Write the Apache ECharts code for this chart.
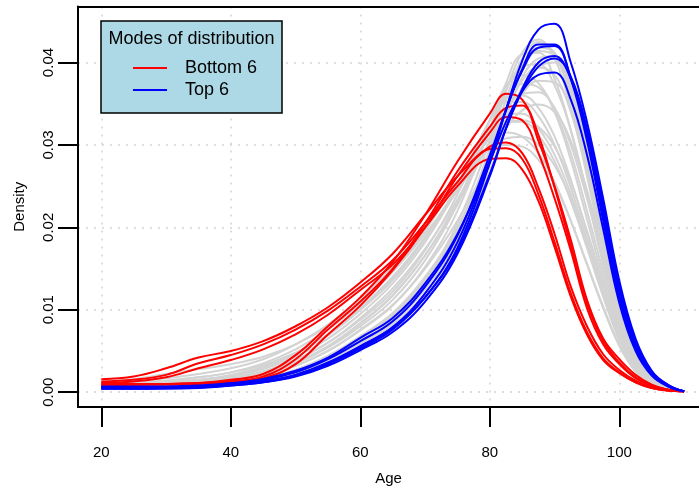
<!DOCTYPE html>
<html lang="en">
<head>
    <meta charset="UTF-8">
    <script src="https://cdn.jsdelivr.net/npm/echarts@6/dist/echarts.min.js"></script>
    <title>Modes of distribution</title>
    <style type="text/css">
        html, body { margin: 0; padding: 0; background: #fff; }
        #chart { width: 699px; height: 487px; }
    </style>
</head>
<body>
<div id="chart"></div>

<script type="text/javascript">
    const ages = [20, 25, 30, 35, 40, 45, 50, 55, 60, 65, 70, 75, 80, 82.5, 85, 87.5, 90, 92.5, 95, 97.5, 100, 102.5, 105, 107.5, 110];

    const xTicks = [20, 40, 60, 80, 100];
    const yTicks = [0, 0.01, 0.02, 0.03, 0.04];

    // Bottom 6 (red)
    const bottom6 = [
        [.00158, .0019, .0029, .0042, .0050, .0062, .0080, .0103, .0133, .0168, .0215, .0262, .0298, .0303, .0290, .0248, .0192, .0128, .0080, .0046, .0027, .0014, .0006, .0002, .0001],
        [.00129, .0015, .0021, .0035, .0045, .0058, .0076, .0099, .0128, .0160, .0205, .0255, .0295, .0296, .0283, .0240, .0182, .0120, .0073, .0041, .0024, .0012, .0005, .0002, .0001],
        [.0011, .0013, .0018, .0029, .0039, .0052, .0070, .0094, .0124, .0155, .0200, .0250, .0283, .0284, .0270, .0232, .0176, .0116, .0070, .0039, .0023, .0012, .0005, .0002, .0001],
        [.0010, .0010, .0010, .0011, .0015, .0022, .0045, .0080, .0115, .0158, .0215, .0280, .0338, .0362, .0355, .0312, .0248, .0178, .0108, .0062, .0036, .0018, .0008, .0003, .0001],
        [.0009, .0009, .0010, .0011, .0013, .0019, .0040, .0076, .0110, .0150, .0205, .0268, .0322, .0345, .0348, .0305, .0250, .0185, .0112, .0065, .0040, .0021, .0009, .0003, .0001],
        [.0008, .0009, .0009, .0010, .0013, .0017, .0034, .0070, .0105, .0148, .0200, .0262, .0315, .0334, .0330, .0290, .0235, .0172, .0102, .0058, .0034, .0017, .0008, .0003, .0001]
    ];

    // Top 6 (blue)
    const top6 = [
        [.0004, .0004, .0004, .0005, .0008, .0012, .0020, .0034, .0053, .0076, .0115, .0175, .0278, .0343, .0402, .0440, .0447, .0400, .0328, .0235, .0135, .0065, .0026, .0009, .0001],
        [.0005, .0005, .0005, .0006, .0009, .0013, .0021, .0036, .0056, .0079, .0120, .0182, .0282, .0342, .0392, .0422, .0422, .0380, .0305, .0208, .0113, .0052, .0021, .0007, .0001],
        [.0006, .0006, .0006, .0007, .0010, .0015, .0024, .0040, .0062, .0086, .0128, .0190, .0288, .0343, .0390, .0418, .0420, .0382, .0310, .0214, .0118, .0055, .0022, .0008, .0001],
        [.0004, .0004, .0005, .0006, .0008, .0012, .0019, .0032, .0051, .0073, .0110, .0168, .0262, .0320, .0368, .0400, .0408, .0380, .0315, .0222, .0125, .0059, .0024, .0008, .0001],
        [.0005, .0005, .0005, .0006, .0009, .0013, .0021, .0035, .0055, .0078, .0115, .0172, .0265, .0320, .0365, .0395, .0405, .0383, .0320, .0228, .0130, .0062, .0025, .0009, .0001],
        [.0007, .0007, .0007, .0008, .0011, .0016, .0026, .0042, .0066, .0090, .0132, .0192, .0280, .0328, .0365, .0385, .0388, .0355, .0288, .0198, .0108, .0050, .0020, .0007, .0001]
    ];

    // all the other curves (grey)
    const others = [
        [.0005, .0005, .0006, .0007, .0010, .0016, .0026, .0042, .0065, .0092, .0138, .0205, .0305, .0365, .0412, .0428, .0405, .0345, .0262, .0170, .0090, .0040, .0015, .0005, .0001],
        [.0005, .0005, .0006, .0007, .0010, .0015, .0024, .0040, .0062, .0088, .0132, .0196, .0295, .0355, .0405, .0425, .0410, .0355, .0272, .0180, .0097, .0044, .0017, .0006, .0001],
        [.0006, .0006, .0007, .0008, .0011, .0017, .0027, .0044, .0066, .0092, .0135, .0195, .0288, .0345, .0395, .0418, .0412, .0365, .0285, .0190, .0104, .0048, .0018, .0006, .0001],
        [.0006, .0006, .0007, .0009, .0013, .0020, .0032, .0050, .0075, .0105, .0152, .0220, .0320, .0375, .0410, .0412, .0380, .0318, .0238, .0155, .0082, .0036, .0014, .0005, .0001],
        [.0005, .0005, .0006, .0007, .0009, .0014, .0023, .0038, .0060, .0085, .0126, .0186, .0278, .0333, .0382, .0405, .0408, .0370, .0295, .0200, .0112, .0052, .0020, .0007, .0001],
        [.0007, .0007, .0008, .0010, .0014, .0022, .0035, .0054, .0080, .0112, .0160, .0228, .0318, .0368, .0395, .0398, .0372, .0318, .0242, .0160, .0087, .0039, .0015, .0005, .0001],
        [.0006, .0006, .0007, .0008, .0011, .0017, .0027, .0044, .0068, .0096, .0140, .0200, .0288, .0340, .0378, .0394, .0385, .0340, .0268, .0182, .0102, .0047, .0018, .0006, .0001],
        [.0008, .0008, .0009, .0011, .0016, .0025, .0039, .0060, .0088, .0122, .0172, .0240, .0330, .0372, .0385, .0375, .0340, .0282, .0210, .0138, .0075, .0034, .0013, .0004, .0001],
        [.0005, .0006, .0006, .0007, .0010, .0016, .0026, .0042, .0066, .0094, .0138, .0196, .0280, .0328, .0362, .0378, .0376, .0342, .0275, .0190, .0108, .0050, .0019, .0006, .0001],
        [.0007, .0007, .0008, .0010, .0014, .0022, .0035, .0055, .0083, .0117, .0166, .0232, .0318, .0358, .0374, .0370, .0342, .0290, .0220, .0146, .0080, .0036, .0014, .0005, .0001],
        [.0008, .0008, .0009, .0011, .0015, .0023, .0036, .0056, .0084, .0118, .0166, .0228, .0305, .0343, .0362, .0364, .0345, .0300, .0235, .0160, .0090, .0041, .0016, .0005, .0001],
        [.0009, .0009, .0010, .0013, .0018, .0028, .0043, .0065, .0095, .0132, .0182, .0248, .0330, .0352, .0352, .0335, .0300, .0248, .0185, .0122, .0067, .0030, .0012, .0004, .0001],
        [.0006, .0007, .0008, .0009, .0013, .0020, .0032, .0050, .0076, .0106, .0150, .0208, .0282, .0320, .0342, .0349, .0340, .0305, .0245, .0170, .0097, .0045, .0017, .0006, .0001],
        [.0010, .0010, .0012, .0015, .0020, .0030, .0046, .0069, .0100, .0138, .0188, .0250, .0320, .0338, .0338, .0320, .0288, .0240, .0180, .0120, .0066, .0030, .0012, .0004, .0001],
        [.0008, .0008, .0009, .0012, .0016, .0025, .0039, .0060, .0090, .0126, .0174, .0234, .0302, .0325, .0330, .0322, .0298, .0255, .0196, .0132, .0074, .0034, .0013, .0004, .0001],
        [.0012, .0012, .0014, .0018, .0024, .0035, .0052, .0076, .0108, .0146, .0196, .0255, .0308, .0315, .0310, .0290, .0255, .0208, .0155, .0102, .0056, .0025, .0010, .0003, .0001],
        [.0010, .0010, .0012, .0015, .0021, .0031, .0047, .0070, .0102, .0140, .0188, .0244, .0298, .0308, .0310, .0300, .0275, .0235, .0180, .0122, .0068, .0031, .0012, .0004, .0001],
        [.0013, .0014, .0017, .0022, .0029, .0040, .0058, .0082, .0114, .0152, .0200, .0252, .0295, .0300, .0298, .0282, .0252, .0208, .0156, .0104, .0058, .0026, .0010, .0003, .0001],
        [.0005, .0005, .0005, .0006, .0009, .0014, .0023, .0038, .0059, .0084, .0125, .0186, .0282, .0340, .0390, .0414, .0408, .0362, .0285, .0192, .0106, .0049, .0019, .0006, .0001],
        [.0005, .0005, .0005, .0006, .0009, .0013, .0021, .0035, .0056, .0081, .0120, .0178, .0268, .0322, .0370, .0395, .0400, .0372, .0305, .0212, .0120, .0056, .0022, .0008, .0001],
        [.0012, .0016, .0022, .0028, .0034, .0043, .0058, .0080, .0110, .0146, .0192, .0246, .0310, .0328, .0328, .0312, .0280, .0232, .0175, .0116, .0063, .0028, .0011, .0003, .0001],
        [.0009, .0011, .0014, .0018, .0024, .0033, .0048, .0070, .0100, .0136, .0186, .0250, .0330, .0357, .0360, .0345, .0310, .0258, .0192, .0126, .0069, .0031, .0012, .0004, .0001]
    ];

    const FONT = "'Liberation Sans', Arial, Helvetica, sans-serif";

    function curve(values, color) {
        return {
            type: 'line',
            xAxisIndex: 0,
            data: ages.map(function (a, i) { return [a, values[i]]; }),
            showSymbol: false,
            smooth: 0.4,
            lineStyle: { color: color, width: 2 },
            emphasis: { disabled: true },
            silent: true
        };
    }

    const series = [];
    others.forEach(function (c) { series.push(curve(c, '#D3D3D3')); });
    bottom6.forEach(function (c) { series.push(curve(c, '#FF0000')); });
    top6.forEach(function (c) { series.push(curve(c, '#0000FF')); });

    const gridLine = { show: true, lineStyle: { color: '#D3D3D3', width: 1.5, type: [2, 6] } };
    const frame = { show: true, onZero: false, lineStyle: { color: '#000', width: 2 } };

    const myChart = echarts.init(document.getElementById('chart'));
    myChart.setOption({
        animation: false,
        backgroundColor: '#fff',
        grid: {
            left: 78, top: 6.5, right: 0, bottom: 80,
            outerBoundsMode: 'none',
            containLabel: false,
            show: false
        },
        xAxis: [{
            type: 'value',
            min: 16.4, max: 112.3,
            name: 'Age',
            nameLocation: 'middle',
            nameGap: 64,
            nameTextStyle: { fontFamily: FONT, fontSize: 15, color: '#000' },
            axisLine: frame,
            axisTick: { show: true, customValues: xTicks, length: 20, lineStyle: { color: '#000', width: 2 } },
            axisLabel: { customValues: xTicks, margin: 38, fontFamily: FONT, fontSize: 15, color: '#000' },
            splitLine: gridLine
        }, {
            // top edge of the box only
            type: 'value',
            position: 'top',
            min: 16.4, max: 112.3,
            axisLine: frame,
            axisTick: { show: false },
            axisLabel: { show: false },
            splitLine: { show: false }
        }],
        yAxis: {
            type: 'value',
            min: -0.0018, max: 0.0468,
            name: 'Density',
            nameLocation: 'middle',
            nameRotate: 90,
            nameGap: 51,
            nameTextStyle: { fontFamily: FONT, fontSize: 15, color: '#000' },
            axisLine: frame,
            axisTick: { show: true, customValues: yTicks, length: 20, lineStyle: { color: '#000', width: 2 } },
            axisLabel: {
                customValues: yTicks, rotate: 90, margin: 22,
                fontFamily: FONT, fontSize: 15, color: '#000',
                formatter: function (v) { return v.toFixed(2); }
            },
            splitLine: gridLine
        },
        graphic: [
            { type: 'rect', z: 100, shape: { x: 101, y: 21, width: 181, height: 92 },
              style: { fill: '#ADD8E6', stroke: '#000', lineWidth: 1.5 } },
            { type: 'text', z: 101, x: 191.5, y: 39,
              style: { text: 'Modes of distribution', fill: '#000', font: '18px ' + FONT, textAlign: 'center', textVerticalAlign: 'middle' } },
            { type: 'line', z: 101, shape: { x1: 133, y1: 68, x2: 167, y2: 68 }, style: { stroke: '#FF0000', lineWidth: 2 } },
            { type: 'line', z: 101, shape: { x1: 133, y1: 90, x2: 167, y2: 90 }, style: { stroke: '#0000FF', lineWidth: 2 } },
            { type: 'text', z: 101, x: 185, y: 68,
              style: { text: 'Bottom 6', fill: '#000', font: '18px ' + FONT, textAlign: 'left', textVerticalAlign: 'middle' } },
            { type: 'text', z: 101, x: 185, y: 90,
              style: { text: 'Top 6', fill: '#000', font: '18px ' + FONT, textAlign: 'left', textVerticalAlign: 'middle' } }
        ],
        series: series
    });
</script>
</body>
</html>
